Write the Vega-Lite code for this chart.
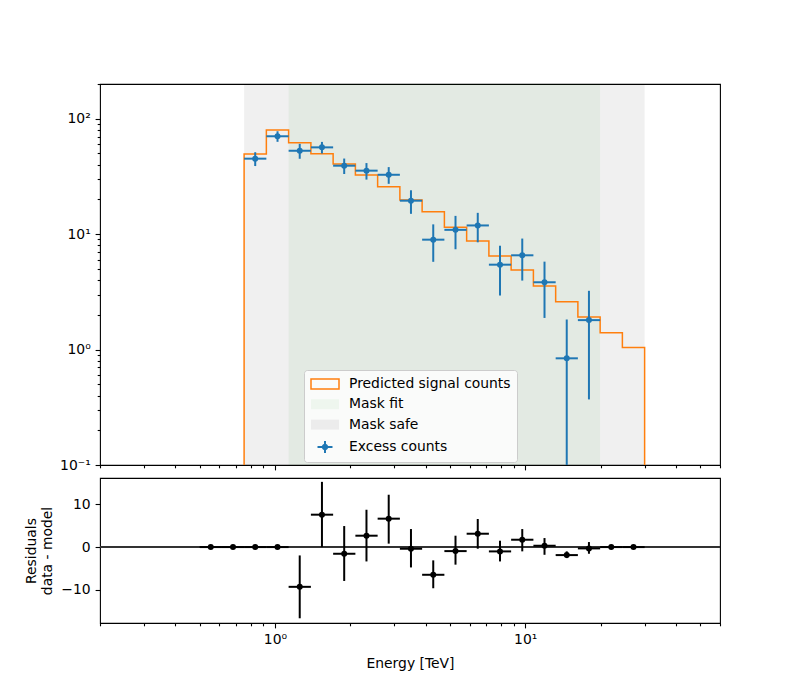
{
  "$schema": "https://vega.github.io/schema/vega-lite/v6.json",
  "padding": {"left": 24, "top": 82, "right": 0, "bottom": 0},
  "background": "white",
  "bounds": "flush",
  "spacing": 13,
  "datasets": {
    "bins": [
      {"k": 0, "lo": 0.500, "hi": 0.614, "c": 0.554, "ex": null, "exlo": null, "exhi": null, "res": 0, "rlo": 0, "rhi": 0},
      {"k": 1, "lo": 0.614, "hi": 0.753, "c": 0.680, "ex": null, "exlo": null, "exhi": null, "res": 0, "rlo": 0, "rhi": 0},
      {"k": 2, "lo": 0.753, "hi": 0.924, "c": 0.834, "ex": 45.1, "exlo": 38.9, "exhi": 51.3, "res": 0, "rlo": 0, "rhi": 0},
      {"k": 3, "lo": 0.924, "hi": 1.134, "c": 1.024, "ex": 70.5, "exlo": 63.1, "exhi": 77.9, "res": 0, "rlo": 0, "rhi": 0},
      {"k": 4, "lo": 1.134, "hi": 1.392, "c": 1.256, "ex": 52.8, "exlo": 45.0, "exhi": 60.6, "res": -9.27, "rlo": -16.6, "rhi": -1.95},
      {"k": 5, "lo": 1.392, "hi": 1.708, "c": 1.541, "ex": 56.5, "exlo": 50.0, "exhi": 63.0, "res": 7.55, "rlo": 0.0, "rhi": 15.2},
      {"k": 6, "lo": 1.708, "hi": 2.096, "c": 1.891, "ex": 39.2, "exlo": 33.2, "exhi": 45.2, "res": -1.56, "rlo": -7.9, "rhi": 4.9},
      {"k": 7, "lo": 2.096, "hi": 2.572, "c": 2.321, "ex": 35.5, "exlo": 29.7, "exhi": 41.3, "res": 2.65, "rlo": -3.35, "rhi": 8.7},
      {"k": 8, "lo": 2.572, "hi": 3.156, "c": 2.848, "ex": 32.7, "exlo": 27.3, "exhi": 38.1, "res": 6.62, "rlo": 0.8, "rhi": 12.2},
      {"k": 9, "lo": 3.156, "hi": 3.873, "c": 3.495, "ex": 19.5, "exlo": 15.0, "exhi": 24.0, "res": -0.39, "rlo": -4.75, "rhi": 4.2},
      {"k": 10, "lo": 3.873, "hi": 4.753, "c": 4.290, "ex": 8.96, "exlo": 5.76, "exhi": 12.16, "res": -6.46, "rlo": -9.6, "rhi": -3.1},
      {"k": 11, "lo": 4.753, "hi": 5.833, "c": 5.265, "ex": 10.9, "exlo": 7.4, "exhi": 14.4, "res": -0.94, "rlo": -4.1, "rhi": 2.65},
      {"k": 12, "lo": 5.833, "hi": 7.158, "c": 6.461, "ex": 11.9, "exlo": 8.5, "exhi": 15.3, "res": 3.11, "rlo": -0.39, "rhi": 6.54},
      {"k": 13, "lo": 7.158, "hi": 8.783, "c": 7.929, "ex": 5.44, "exlo": 2.94, "exhi": 7.94, "res": -1.01, "rlo": -3.35, "rhi": 1.48},
      {"k": 14, "lo": 8.783, "hi": 10.78, "c": 9.73, "ex": 6.56, "exlo": 3.96, "exhi": 9.16, "res": 1.71, "rlo": -1.0, "rhi": 4.2},
      {"k": 15, "lo": 10.78, "hi": 13.23, "c": 11.94, "ex": 3.83, "exlo": 1.88, "exhi": 5.78, "res": 0.31, "rlo": -1.8, "rhi": 2.1},
      {"k": 16, "lo": 13.23, "hi": 16.23, "c": 14.65, "ex": 0.84, "exlo": 0.001, "exhi": 1.82, "res": -1.87, "rlo": -2.57, "rhi": -1.0},
      {"k": 17, "lo": 16.23, "hi": 19.92, "c": 17.97, "ex": 1.80, "exlo": 0.37, "exhi": 3.23, "res": -0.31, "rlo": -1.56, "rhi": 1.17},
      {"k": 18, "lo": 19.92, "hi": 24.44, "c": 22.06, "ex": null, "exlo": null, "exhi": null, "res": 0, "rlo": 0, "rhi": 0},
      {"k": 19, "lo": 24.44, "hi": 29.99, "c": 27.07, "ex": null, "exlo": null, "exhi": null, "res": 0, "rlo": 0, "rhi": 0}
    ],
    "model": [
      {"o": 0, "e": 0.753, "counts": 0.001},
      {"o": 1, "e": 0.753, "counts": 49.4},
      {"o": 2, "e": 0.924, "counts": 79.8},
      {"o": 3, "e": 1.134, "counts": 62.0},
      {"o": 4, "e": 1.392, "counts": 49.8},
      {"o": 5, "e": 1.708, "counts": 40.5},
      {"o": 6, "e": 2.096, "counts": 32.5},
      {"o": 7, "e": 2.572, "counts": 25.8},
      {"o": 8, "e": 3.156, "counts": 19.8},
      {"o": 9, "e": 3.873, "counts": 15.6},
      {"o": 10, "e": 4.753, "counts": 11.5},
      {"o": 11, "e": 5.833, "counts": 8.73},
      {"o": 12, "e": 7.158, "counts": 6.47},
      {"o": 13, "e": 8.783, "counts": 4.90},
      {"o": 14, "e": 10.78, "counts": 3.56},
      {"o": 15, "e": 13.23, "counts": 2.60},
      {"o": 16, "e": 16.23, "counts": 1.92},
      {"o": 17, "e": 19.92, "counts": 1.40},
      {"o": 18, "e": 24.44, "counts": 1.04},
      {"o": 19, "e": 29.99, "counts": 0.001}
    ],
    "masks": [
      {"mask": "Mask safe", "lo": 0.753, "hi": 29.99},
      {"mask": "Mask fit", "lo": 1.134, "hi": 19.92}
    ],
    "legend": [
      {"series": "Predicted signal counts"},
      {"series": "Mask fit"},
      {"series": "Mask safe"},
      {"series": "Excess counts"}
    ]
  },
  "vconcat": [
    {
      "width": 620,
      "height": 381,
      "layer": [
        {
          "data": {"name": "masks"},
          "transform": [{"filter": "datum.mask == 'Mask safe'"}],
          "mark": {"type": "rect", "color": "black", "opacity": 0.06},
          "encoding": {
            "x": {"field": "lo", "type": "quantitative", "title": null,
              "scale": {"type": "log", "domain": [0.2, 60], "nice": false},
              "axis": {"values": [0.2,0.3,0.4,0.5,0.6,0.7,0.8,0.9,1,2,3,4,5,6,7,8,9,10,20,30,40,50,60],
                "labels": false, "title": null,
                "tickSize": {"condition": {"test": "indexof([1,10], datum.value) >= 0", "value": 4.9}, "value": 2.8}}},
            "x2": {"field": "hi"}
          }
        },
        {
          "data": {"name": "masks"},
          "transform": [{"filter": "datum.mask == 'Mask fit'"}],
          "mark": {"type": "rect", "color": "green", "opacity": 0.05},
          "encoding": {
            "x": {"field": "lo", "type": "quantitative", "title": null},
            "x2": {"field": "hi"}
          }
        },
        {
          "data": {"name": "model"},
          "mark": {"type": "line", "color": "#ff7f0e", "strokeWidth": 1.5, "interpolate": "step-after", "clip": true},
          "encoding": {
            "x": {"field": "e", "type": "quantitative", "title": null},
            "y": {"field": "counts", "type": "quantitative", "title": null,
              "scale": {"type": "log", "domain": [0.1, 200], "nice": false},
              "axis": {"values": [0.1,0.2,0.3,0.4,0.5,0.6,0.7,0.8,0.9,1,2,3,4,5,6,7,8,9,10,20,30,40,50,60,70,80,90,100,200],
                "title": null,
                "labelExpr": "datum.value == 0.1 ? '10⁻¹' : datum.value == 1 ? '10⁰' : datum.value == 10 ? '10¹' : datum.value == 100 ? '10²' : ''",
                "tickSize": {"condition": {"test": "indexof([0.1,1,10,100], datum.value) >= 0", "value": 4.9}, "value": 2.8}}},
            "order": {"field": "o", "type": "quantitative"}
          }
        },
        {
          "data": {"name": "bins"},
          "mark": {"type": "rule", "color": "#1f77b4", "strokeWidth": 2, "clip": true},
          "encoding": {
            "x": {"field": "lo", "type": "quantitative", "title": null},
            "x2": {"field": "hi"},
            "y": {"field": "ex", "type": "quantitative", "title": null}
          }
        },
        {
          "data": {"name": "bins"},
          "mark": {"type": "rule", "color": "#1f77b4", "strokeWidth": 2, "clip": true},
          "encoding": {
            "x": {"field": "c", "type": "quantitative", "title": null},
            "y": {"field": "exlo", "type": "quantitative", "title": null},
            "y2": {"field": "exhi"}
          }
        },
        {
          "data": {"name": "bins"},
          "mark": {"type": "point", "filled": true, "color": "#1f77b4", "size": 36, "opacity": 1, "clip": true},
          "encoding": {
            "x": {"field": "c", "type": "quantitative", "title": null},
            "y": {"field": "ex", "type": "quantitative", "title": null}
          }
        },
        {
          "data": {"name": "legend"},
          "mark": {"type": "point", "filled": true, "opacity": 0},
          "encoding": {
            "fill": {"field": "series", "type": "nominal",
              "scale": {"domain": ["Predicted signal counts", "Mask fit", "Mask safe", "Excess counts"],
                "range": ["rgba(255,255,255,0)", "#eef6ee", "#ececec", "#1f77b4"]},
              "legend": {"orient": "none", "legendX": 204, "legendY": 286, "title": null,
                "padding": 6, "fillColor": "rgba(255,255,255,0.8)", "strokeColor": "#cccccc", "cornerRadius": 3,
                "labelFont": "DejaVu Sans", "labelFontSize": 13.9, "labelColor": "black", "labelLimit": 400,
                "symbolSize": 196, "rowPadding": 4.3, "labelOffset": 23, "symbolOpacity": 1, "symbolStrokeWidth": 1.5,
                "encode": {"symbols": {"update": {"opacity": {"value": 1}, "fillOpacity": {"value": 1}, "strokeOpacity": {"value": 1}}}}}},
            "stroke": {"field": "series", "type": "nominal",
              "scale": {"domain": ["Predicted signal counts", "Mask fit", "Mask safe", "Excess counts"],
                "range": ["#ff7f0e", "rgba(0,0,0,0)", "rgba(0,0,0,0)", "rgba(0,0,0,0)"]}},
            "shape": {"field": "series", "type": "nominal",
              "scale": {"domain": ["Predicted signal counts", "Mask fit", "Mask safe", "Excess counts"],
                "range": [
                  "M-1,-0.71 L3,-0.71 L3,0.71 L-1,0.71 Z",
                  "M-1,-0.71 L3,-0.71 L3,0.71 L-1,0.71 Z",
                  "M-1,-0.71 L3,-0.71 L3,0.71 L-1,0.71 Z",
                  "M-0.07,-0.14 L2.07,-0.14 L2.07,0.14 L-0.07,0.14 Z M0.86,-0.86 L1.14,-0.86 L1.14,0.86 L0.86,0.86 Z M0.54,0 A0.46,0.46 0 1,1 1.46,0 A0.46,0.46 0 1,1 0.54,0 Z"
                ]}}
          }
        }
      ]
    },
    {
      "width": 620,
      "height": 145,
      "data": {"name": "bins"},
      "layer": [
        {
          "mark": {"type": "rule", "color": "#333333", "strokeWidth": 0.7},
          "encoding": {
            "y": {"datum": 0, "type": "quantitative",
              "scale": {"domain": [-17.7, 16.1], "nice": false, "zero": false},
              "axis": {"values": [-10, 0, 10], "title": ["Residuals", "data - model"], "titlePadding": 6}}
          }
        },
        {
          "mark": {"type": "rule", "color": "black", "strokeWidth": 2},
          "encoding": {
            "x": {"field": "lo", "type": "quantitative", "title": "Energy [TeV]",
              "scale": {"type": "log", "domain": [0.2, 60], "nice": false},
              "axis": {"values": [0.2,0.3,0.4,0.5,0.6,0.7,0.8,0.9,1,2,3,4,5,6,7,8,9,10,20,30,40,50,60],
                "title": "Energy [TeV]", "titlePadding": 10,
                "labelExpr": "datum.value == 1 ? '10⁰' : datum.value == 10 ? '10¹' : ''",
                "tickSize": {"condition": {"test": "indexof([1,10], datum.value) >= 0", "value": 4.9}, "value": 2.8}}},
            "x2": {"field": "hi"},
            "y": {"field": "res", "type": "quantitative", "title": ["Residuals", "data - model"]}
          }
        },
        {
          "mark": {"type": "rule", "color": "black", "strokeWidth": 2},
          "encoding": {
            "x": {"field": "c", "type": "quantitative", "title": "Energy [TeV]"},
            "y": {"field": "rlo", "type": "quantitative", "title": ["Residuals", "data - model"]},
            "y2": {"field": "rhi"}
          }
        },
        {
          "mark": {"type": "point", "filled": true, "color": "black", "size": 36, "opacity": 1},
          "encoding": {
            "x": {"field": "c", "type": "quantitative", "title": "Energy [TeV]"},
            "y": {"field": "res", "type": "quantitative", "title": ["Residuals", "data - model"]}
          }
        }
      ]
    }
  ],
  "config": {
    "font": "DejaVu Sans",
    "view": {"stroke": "black", "strokeWidth": 1.1},
    "axis": {
      "domain": false, "grid": false,
      "labelFont": "DejaVu Sans", "labelFontSize": 13.9, "labelColor": "black",
      "tickColor": "black", "tickWidth": 1.1, "tickSize": 4.9, "labelPadding": 4.9,
      "titleFont": "DejaVu Sans", "titleFontSize": 13.9, "titleFontWeight": "normal", "titleColor": "black"
    },
    "legend": {"labelFont": "DejaVu Sans"}
  }
}
